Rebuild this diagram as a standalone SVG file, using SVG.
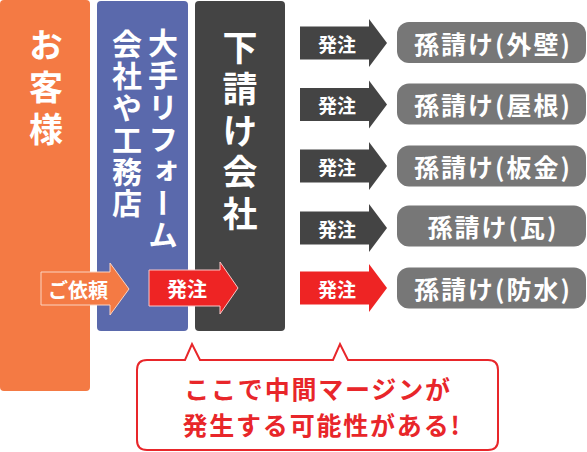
<svg xmlns="http://www.w3.org/2000/svg" width="587" height="452" viewBox="0 0 587 452">
<style>
text{font-family:"Noto Sans CJK JP","Noto Sans",sans-serif;font-weight:bold;}
.vt{writing-mode:vertical-rl;fill:#fff;}
.pill{fill:#777777;}
.pt{fill:#fff;font-size:25px;text-anchor:middle;dominant-baseline:central;letter-spacing:2px;}
.at{fill:#fff;font-size:19px;text-anchor:middle;dominant-baseline:central;}
.at2{fill:#fff;font-size:20px;text-anchor:middle;dominant-baseline:central;}
.dark{fill:#444444;}
.red{fill:#EE2424;}
.ct{fill:#E8262A;font-size:25px;text-anchor:middle;dominant-baseline:central;letter-spacing:1.8px;}
</style>
<defs>
<path id="arr" d="M0,-16.5 H69 V-24 L87,0 L69,24 V16.5 H0 Z"/>
</defs>
<rect width="587" height="452" fill="#fff"/>
<g id="customer">
<rect x="0" y="0" width="90" height="391" rx="4" fill="#F47A44"/>
<text class="vt" x="46" y="28" font-size="34" letter-spacing="8">お客様</text>
</g>
<g id="major">
<rect x="97" y="1" width="91" height="330" rx="4" fill="#5A69AC"/>
<text class="vt" x="163" y="28" font-size="30" letter-spacing="2">大手リフォーム</text>
<text class="vt" x="127" y="29" font-size="30" letter-spacing="1.8">会社や工務店</text>
</g>
<g id="sub">
<rect x="195" y="1" width="90" height="330" rx="4" fill="#444444"/>
<text class="vt" x="240" y="30" font-size="35" letter-spacing="6.5">下請け会社</text>
</g>
<g id="connectors">
<path d="M41,272 H110 V263 L129,289 L110,315 V305 H41 Z" fill="#F47A44" stroke="#FBD3C0" stroke-width="1"/>
<text class="at2" x="78" y="289">ご依頼</text>
<path d="M149,270 H220 V262 L238,288 L220,314 V306 H149 Z" fill="#EE2424" stroke="#F9C7C7" stroke-width="1"/>
<text class="at2" x="187" y="288">発注</text>
<use href="#arr" x="300" y="43" class="dark"/>
<text class="at" x="337" y="43">発注</text>
<use href="#arr" x="300" y="104.5" class="dark"/>
<text class="at" x="337" y="104.5">発注</text>
<use href="#arr" x="300" y="166" class="dark"/>
<text class="at" x="337" y="166">発注</text>
<use href="#arr" x="300" y="228" class="dark"/>
<text class="at" x="337" y="228">発注</text>
<use href="#arr" x="300" y="288" class="red"/>
<text class="at" x="337" y="288">発注</text>
</g>
<g id="sub1">
<rect class="pill" x="397" y="22" width="189" height="41" rx="12"/>
<text class="pt" x="493" y="42.5">孫請け(外壁)</text>
</g>
<g id="sub2">
<rect class="pill" x="397" y="83.5" width="189" height="41" rx="12"/>
<text class="pt" x="493" y="104">孫請け(屋根)</text>
</g>
<g id="sub3">
<rect class="pill" x="397" y="145.5" width="189" height="41" rx="12"/>
<text class="pt" x="493" y="166">孫請け(板金)</text>
</g>
<g id="sub4">
<rect class="pill" x="397" y="205.5" width="189" height="41" rx="12"/>
<text class="pt" x="493" y="226">孫請け(瓦)</text>
</g>
<g id="sub5">
<rect class="pill" x="397" y="267.5" width="189" height="41" rx="12"/>
<text class="pt" x="493" y="288">孫請け(防水)</text>
</g>
<g id="callout">
<path d="M147,360 H185 L192,344 L200,360 H333 L340,344 L348,360 H488 Q498,360 498,370 V440 Q498,450 488,450 H147 Q137,450 137,440 V370 Q137,360 147,360 Z" fill="#fff" stroke="#E8262A" stroke-width="2"/>
<text class="ct" x="318" y="388">ここで中間マージンが</text>
<text class="ct" x="322" y="424">発生する可能性がある!</text>
</g>
</svg>
